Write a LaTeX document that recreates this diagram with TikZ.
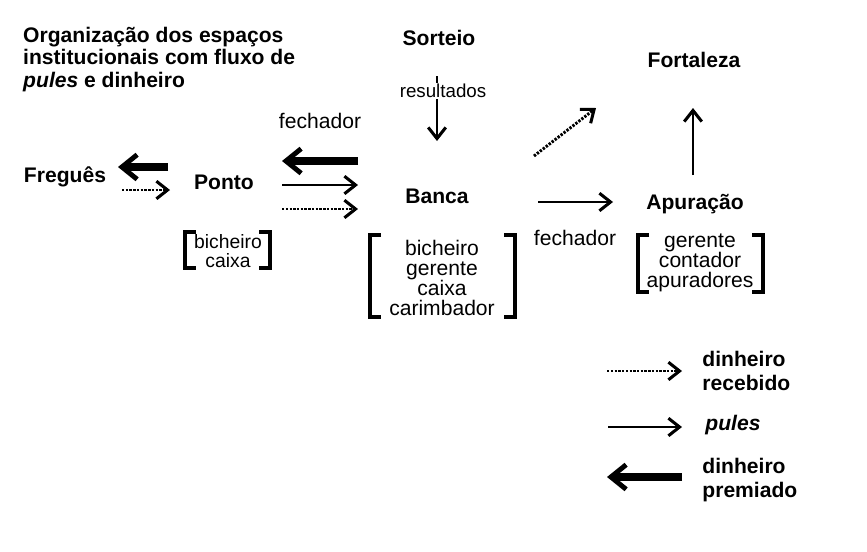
\documentclass[tikz,border=0pt]{standalone}
\usepackage{fontspec}
\setmainfont{Liberation Sans}
\usepackage{tikz}
\usetikzlibrary{arrows.meta}

\begin{document}
\begin{tikzpicture}[x=0.03cm,y=-0.03cm,
                    pules/.style={line width=2.1pt,-{Straight Barb[length=9.5pt,width=15pt,line width=2.6pt]}},
                    recebido/.style={pules,line width=2.5pt,dash pattern=on 2pt off 1.2pt},
                    premiado/.style={line width=6pt,-{Straight Barb[length=13pt,width=21pt,line width=4.2pt]}},
                    bracket/.style={line width=2.6pt},
                    main node/.style={inner sep=1pt,font=\bfseries\fontsize{18}{19}\selectfont},
                    eq node/.style={inner sep=1pt,align=center,font=\fontsize{18}{17}\selectfont}]
  \useasboundingbox (0,0) rectangle (867,551);

  \node[main node,anchor=north west,align=left,inner sep=0pt] (titulo) at (23,27)
    {Organização dos espaços\\institucionais com fluxo de\\\textit{pules} e dinheiro};

  \node[main node] (fregues) at (65,177) {Freguês};
  \node[main node] (ponto) at (224,182) {Ponto};
  \node[main node] (sorteio) at (439,38) {Sorteio};
  \node[main node] (banca) at (437,196) {Banca};
  \node[main node] (fortaleza) at (694,60) {Fortaleza};
  \node[main node] (apuracao) at (695,204) {Apuração};

  \node[eq node,font=\fontsize{16.5}{16.5}\selectfont] (pontoeq) at (228,251) {bicheiro\\caixa};
  \node[eq node] (bancaeq) at (442,278) {bicheiro\\gerente\\caixa\\carimbador};
  \node[eq node] (apuracaoeq) at (700,263) {gerente\\contador\\apuradores};

  \node[eq node] (fechadorA) at (320,121) {fechador};
  \node[eq node] (fechadorB) at (575,238) {fechador};

  % colchetes
  \foreach \l/\r/\t/\b in {185/270/232/268, 370/515/235/317, 638/763/235/292}{
    \draw[bracket] (\l+11,\t) -- (\l,\t) -- (\l,\b) -- (\l+11,\b);
    \draw[bracket] (\r-11,\t) -- (\r,\t) -- (\r,\b) -- (\r-11,\b);
  }

  % pontas das setas
  \coordinate (fp1) at (168,167); \coordinate (fp2) at (118,167);
  \coordinate (fp3) at (122,190); \coordinate (fp4) at (170,190);
  \coordinate (pb1) at (358,161); \coordinate (pb2) at (282,161);
  \coordinate (pb3) at (282,185); \coordinate (pb4) at (358,185);
  \coordinate (pb5) at (282,209); \coordinate (pb6) at (358,209);
  \coordinate (sb1) at (437,76);  \coordinate (sb2) at (437,141);
  \coordinate (bf1) at (534,156); \coordinate (bf2) at (596,108);
  \coordinate (ba1) at (538,202); \coordinate (ba2) at (613,202);
  \coordinate (af1) at (693,175); \coordinate (af2) at (693,108);

  \draw[premiado] (fp1) -- (fp2);
  \draw[recebido] (fp3) -- (fp4);
  \draw[premiado] (pb1) -- (pb2);
  \draw[pules] (pb3) -- (pb4);
  \draw[recebido] (pb5) -- (pb6);
  \draw[pules] (sb1) -- (sb2);
  \draw[recebido] (bf1) -- (bf2);
  \draw[pules] (ba1) -- (ba2);
  \draw[pules] (af1) -- (af2);

  \node[eq node,fill=white,font=\fontsize{16}{17}\selectfont] (resultados) at (443,91) {resultados};

  % legenda
  \coordinate (lg1) at (607,371); \coordinate (lg2) at (682,371);
  \coordinate (lg3) at (608,427); \coordinate (lg4) at (682,427);
  \coordinate (lg5) at (682,477); \coordinate (lg6) at (607,477);
  \draw[recebido] (lg1) -- (lg2);
  \draw[pules] (lg3) -- (lg4);
  \draw[premiado] (lg5) -- (lg6);

  \node[main node,anchor=west,align=left,font=\bfseries\fontsize{18}{20.5}\selectfont] (legrecebido) at (701,371) {dinheiro\\recebido};
  \node[main node,anchor=west] (legpules) at (704,425) {\textit{pules}};
  \node[main node,anchor=west,align=left,font=\bfseries\fontsize{18}{20.5}\selectfont] (legpremiado) at (701,480) {dinheiro\\premiado};
\end{tikzpicture}
\end{document}
